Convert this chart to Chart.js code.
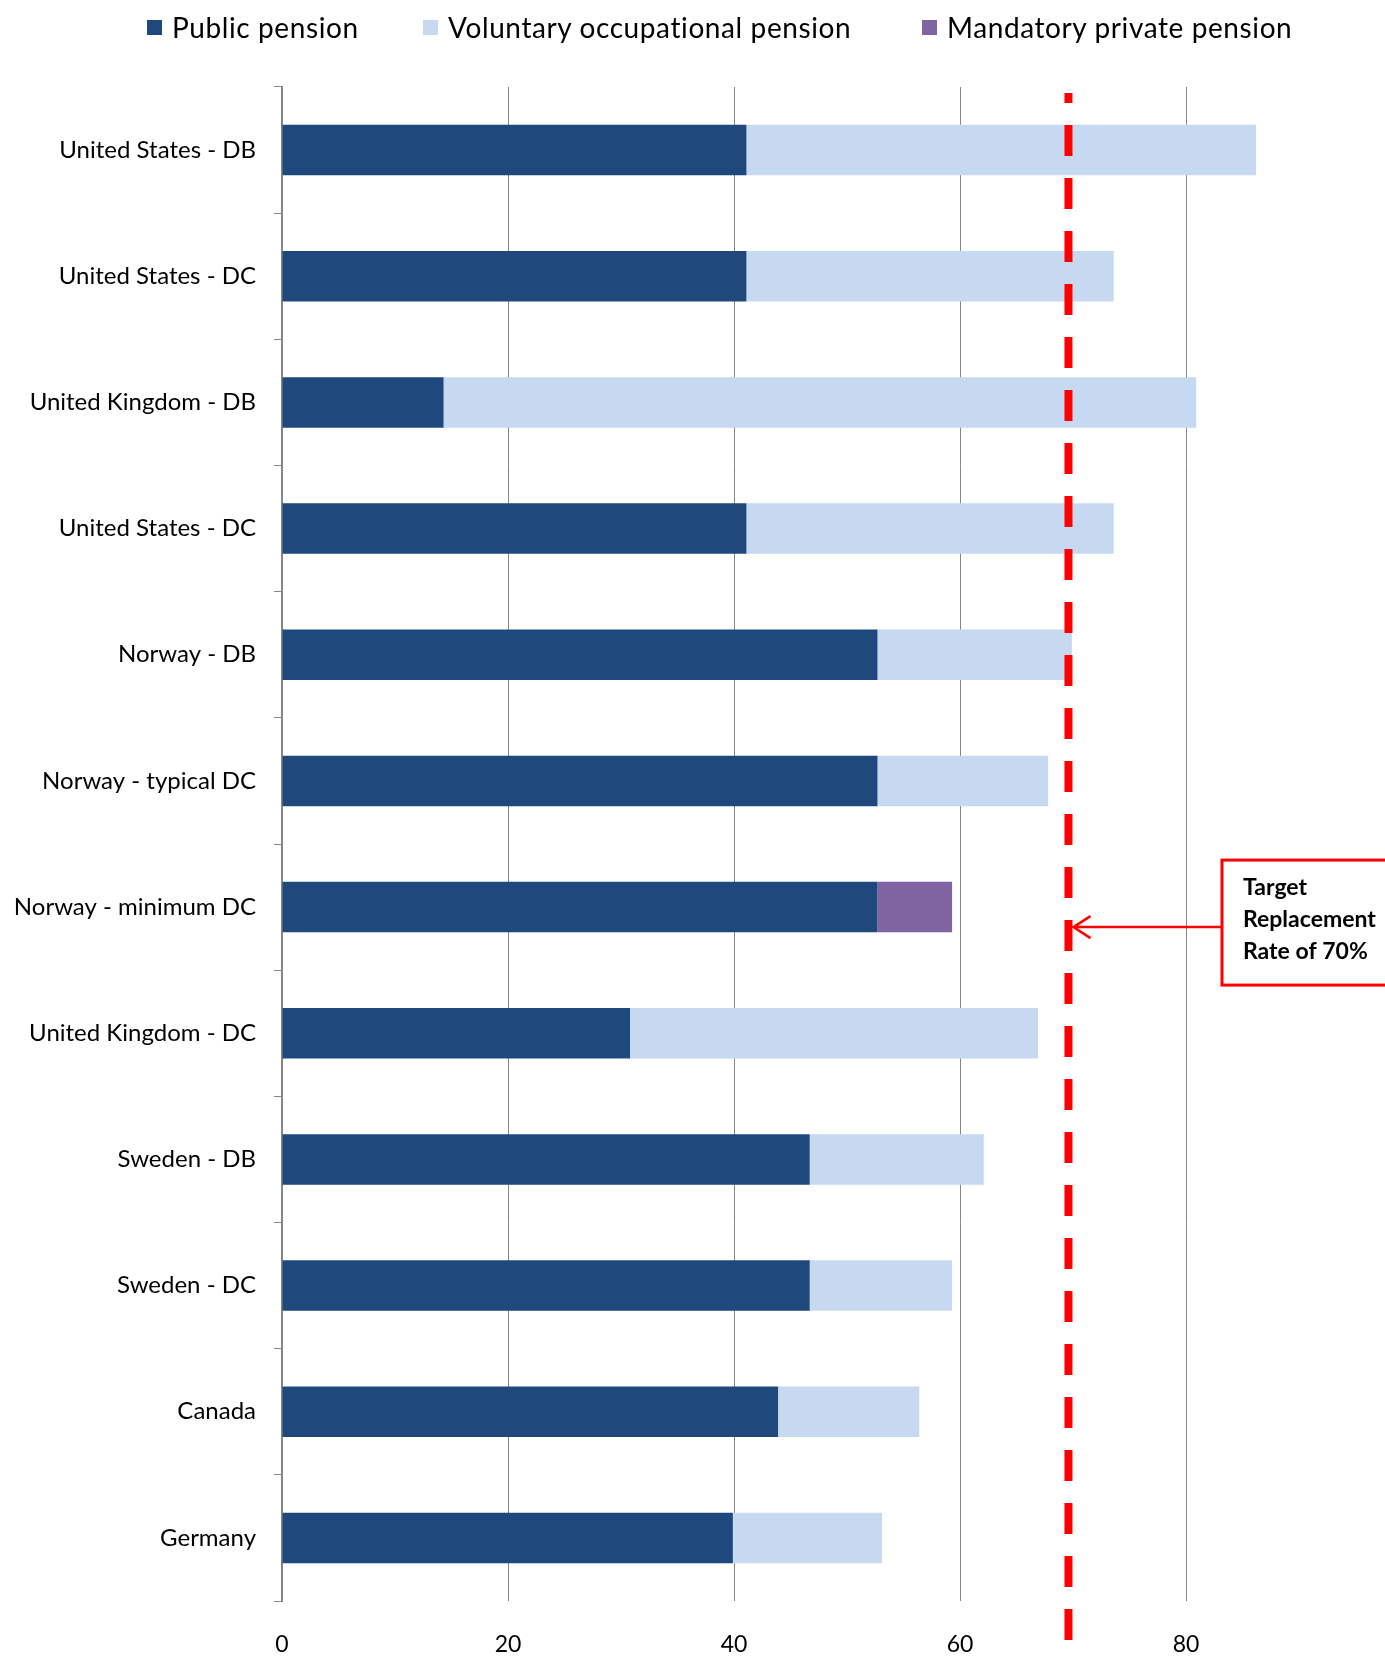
<!DOCTYPE html>
<html>
<head>
<meta charset="utf-8">
<script src="https://cdn.jsdelivr.net/npm/chart.js@4.4.1/dist/chart.umd.min.js"></script>
<style>
  body { margin: 0; overflow: hidden; background: #fff; }
  #wrap { position: relative; width: 1440px; height: 1657px; }
  #chartPension { display: block; }
  #legend { position: absolute; top: 10px; left: 0; width: 1440px; height: 40px;
    font-family: Lato, sans-serif; font-size: 28px; letter-spacing: 0.6px; color: #000; white-space: nowrap; }
  #legend span.item { position: absolute; top: 0; display: flex; align-items: center; }
  #legend span.box { display: inline-block; width: 15px; height: 15px; margin-right: 10px; }
</style>
</head>
<body>
<div id="wrap">
  <div id="legend"></div>
  <canvas id="chartPension" width="1440" height="1657"></canvas>
</div>
<script>
  const categories = ['United States - DB', 'United States - DC', 'United Kingdom - DB', 'United States - DC',
    'Norway - DB', 'Norway - typical DC', 'Norway - minimum DC', 'United Kingdom - DC',
    'Sweden - DB', 'Sweden - DC', 'Canada', 'Germany'];
  const publicPension = [41.1, 41.1, 14.3, 41.1, 52.7, 52.7, 52.7, 30.8, 46.7, 46.7, 43.9, 39.9];
  const voluntaryPension = [45.1, 32.5, 66.6, 32.5, 17.2, 15.1, 0, 36.1, 15.4, 12.6, 12.5, 13.2];
  const mandatoryPension = [0, 0, 0, 0, 0, 0, 6.6, 0, 0, 0, 0, 0];
  const xTickStep = 20;
  const targetRate = 69.6;
  const targetText = ['Target', 'Replacement', 'Rate of 70%'];
  const legendLeft = [147, 423, 922];

  const targetLine = {
    id: 'targetLine',
    afterDraw(chart) {
      const { ctx, chartArea, scales } = chart;
      const px = scales.x.getPixelForValue(targetRate);
      const cy = scales.y.getPixelForValue(6);
      ctx.save();
      // dashed red target line
      ctx.strokeStyle = '#FF0000';
      ctx.lineWidth = 8;
      ctx.setLineDash([31, 22]);
      ctx.lineDashOffset = 21;
      ctx.beginPath();
      ctx.moveTo(px, chartArea.top + 6);
      ctx.lineTo(px, chart.height);
      ctx.stroke();
      ctx.setLineDash([]);

      // arrow from the box to the line
      const ay = cy + 20;
      const bx = 1222;
      ctx.lineWidth = 2.5;
      ctx.beginPath();
      ctx.moveTo(bx, ay);
      ctx.lineTo(px + 5, ay);
      ctx.moveTo(px + 22, ay - 11);
      ctx.lineTo(px + 5, ay);
      ctx.lineTo(px + 22, ay + 11);
      ctx.stroke();

      // text box
      const by = cy - 47;
      ctx.fillStyle = '#fff';
      ctx.fillRect(bx, by, 300, 125);
      ctx.lineWidth = 3;
      ctx.strokeRect(bx, by, 300, 125);
      ctx.fillStyle = '#000';
      ctx.font = 'bold 23px Lato';
      ctx.textBaseline = 'middle';
      targetText.forEach((t, i) => ctx.fillText(t, bx + 21, by + 27 + i * 32));
      ctx.restore();
    }
  };

  const ctx = document.getElementById('chartPension');

  const chart = new Chart(ctx, {
    type: 'bar',
    data: {
      labels: categories,
      datasets: [{
        label: 'Public pension',
        data: publicPension,
        backgroundColor: '#1F497D'
      }, {
        label: 'Voluntary occupational pension',
        data: voluntaryPension,
        backgroundColor: '#C6D9F1'
      }, {
        label: 'Mandatory private pension',
        data: mandatoryPension,
        backgroundColor: '#8064A2'
      }]
    },
    options: {
      indexAxis: 'y',
      responsive: false,
      animation: false,
      categoryPercentage: 1,
      barPercentage: 0.4,
      layout: { padding: { top: 87, right: 28, left: 0, bottom: 0 } },
      plugins: {
        legend: { display: false },
        tooltip: { enabled: false }
      },
      scales: {
        x: {
          stacked: true,
          min: 0,
          max: 100,
          ticks: { stepSize: xTickStep, padding: 30, color: '#000', font: { family: 'Lato', size: 23 } },
          grid: { color: '#868686', lineWidth: 1, drawTicks: false },
          border: { display: false },
          afterFit(scale) {
            scale.height = 56;
            scale.paddingLeft = 0; scale.paddingRight = 0; scale.paddingTop = 0; scale.paddingBottom = 0;
          }
        },
        y: {
          stacked: true,
          ticks: { padding: 18, color: '#000', font: { family: 'Lato', size: 24 } },
          grid: { offset: true, drawOnChartArea: false, drawTicks: true, tickLength: 8, color: '#868686' },
          border: { color: '#868686', width: 2 },
          afterFit(scale) {
            scale.width = 282;
            scale.paddingTop = 0; scale.paddingBottom = 0; scale.paddingLeft = 0; scale.paddingRight = 0;
          }
        }
      }
    },
    plugins: [targetLine]
  });

  const legendEl = document.getElementById('legend');
  chart.data.datasets.forEach((ds, i) => {
    const item = document.createElement('span');
    item.className = 'item';
    item.style.left = legendLeft[i] + 'px';
    const box = document.createElement('span');
    box.className = 'box';
    box.style.background = ds.backgroundColor;
    item.appendChild(box);
    item.appendChild(document.createTextNode(ds.label));
    legendEl.appendChild(item);
  });
</script>
</body>
</html>
